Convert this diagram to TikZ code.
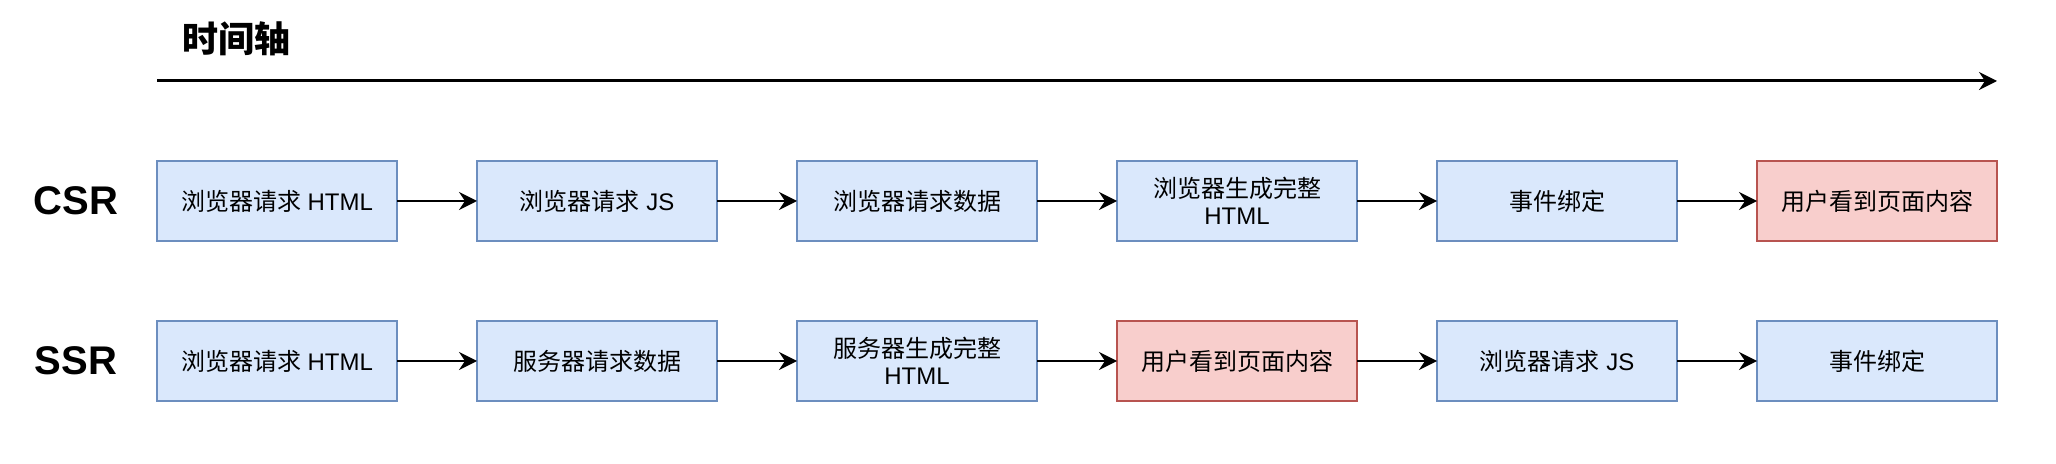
\documentclass[tikz,border=0pt]{standalone}
\usepackage{fontspec}
\setmainfont{Liberation Sans}
\newfontfamily\cjk{Noto Sans CJK SC}
\newcommand{\zh}[1]{{\cjk #1}}
\usetikzlibrary{positioning,arrows.meta}
\definecolor{blueFill}{HTML}{DAE8FC}
\definecolor{blueLine}{HTML}{6C8EBF}
\definecolor{redFill}{HTML}{F8CECC}
\definecolor{redLine}{HTML}{B85450}
\tikzset{
  stage/.style={draw=blueLine,fill=blueFill,line width=1pt,minimum width=120pt,
    minimum height=40pt,inner sep=0pt,outer sep=0pt,align=center,
    font=\fontsize{12}{13.5}\selectfont},
  seen/.style={stage,draw=redLine,fill=redFill},
  flow/.style={line width=1pt,-{Stealth[length=9pt,width=9pt,inset=3pt]}},
  rowname/.style={font=\fontsize{20}{24}\selectfont\bfseries},
}
\begin{document}
\begin{tikzpicture}[x=1pt,y=-1pt]
  \useasboundingbox (0,0) rectangle (1028,232);
  % time axis
  \node[font=\fontsize{18}{22}\selectfont\cjk\bfseries] (axis) at (118,19.5) {时间轴};
  \coordinate (t0) at (78.5,40.5);
  \coordinate (t1) at (998.5,40.5);
  \draw[flow,line width=1.5pt] (t0) -- (t1);
  % CSR row
  \node[rowname] (csr) at (38,100.5) {CSR};
  \node[stage] (c1) at (138.5,100.5) {\zh{浏览器请求} HTML};
  \node[stage,right=40pt of c1] (c2) {\zh{浏览器请求} JS};
  \node[stage,right=40pt of c2] (c3) {\zh{浏览器请求数据}};
  \node[stage,right=40pt of c3] (c4) {\zh{浏览器生成完整}\\HTML};
  \node[stage,right=40pt of c4] (c5) {\zh{事件绑定}};
  \node[seen,right=40pt of c5] (c6) {\zh{用户看到页面内容}};
  \foreach \a/\b in {c1/c2,c2/c3,c3/c4,c4/c5,c5/c6}
    \draw[flow] (\a) -- (\b);
  % SSR row
  \node[rowname] (ssr) at (38,180.5) {SSR};
  \node[stage] (s1) at (138.5,180.5) {\zh{浏览器请求} HTML};
  \node[stage,right=40pt of s1] (s2) {\zh{服务器请求数据}};
  \node[stage,right=40pt of s2] (s3) {\zh{服务器生成完整}\\HTML};
  \node[seen,right=40pt of s3] (s4) {\zh{用户看到页面内容}};
  \node[stage,right=40pt of s4] (s5) {\zh{浏览器请求} JS};
  \node[stage,right=40pt of s5] (s6) {\zh{事件绑定}};
  \foreach \a/\b in {s1/s2,s2/s3,s3/s4,s4/s5,s5/s6}
    \draw[flow] (\a) -- (\b);
\end{tikzpicture}
\end{document}
